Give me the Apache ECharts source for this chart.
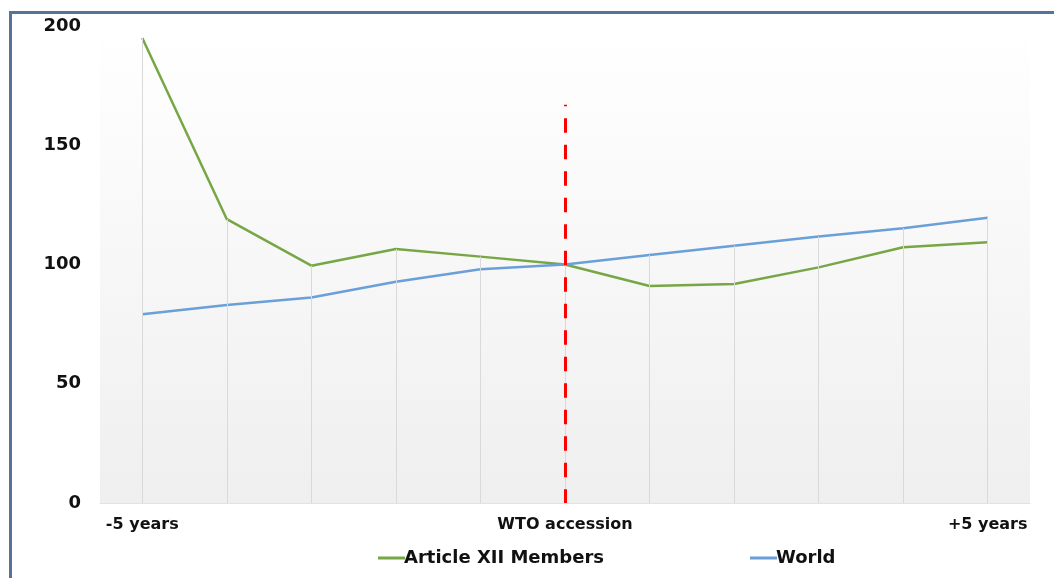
<!DOCTYPE html>
<html>
<head>
<meta charset="utf-8">
<script src="https://cdn.jsdelivr.net/npm/echarts@6/dist/echarts.min.js"></script>
<style>
html,body{margin:0;padding:0;background:#fff;}
#chart{position:absolute;left:0;top:0;width:1054px;height:578px;}
#frame{position:absolute;left:9px;top:11px;width:1060px;height:600px;border-left:3px solid #56739a;border-top:3px solid #56739a;pointer-events:none;}
</style>
</head>
<body>
<div id="chart"></div>
<div id="frame"></div>
<script>
const categories = ['-5','-4','-3','-2','-1','0','1','2','3','4','5'];
const tickLabels = ['-5 years','','','','','WTO accession','','','','','+5 years'];
const article12 = [195, 119, 99.5, 106.5, 103.3, 100, 91, 91.8, 98.8, 107.2, 109.3];
const world = [79.1, 83, 86.2, 92.8, 98, 100, 104, 107.9, 111.7, 115.2, 119.6];
const accessionIndex = 5;
const accessionLineTop = 167;
const yTicks = [0, 50, 100, 150, 200];

const FONT = '"DejaVu Sans", Verdana, sans-serif';
const chart = echarts.init(document.getElementById('chart'), null, {renderer: 'canvas'});

const dropLines = categories.map((c, i) => [
  {coord: [i, Math.max(article12[i], world[i])]},
  {coord: [i, 0]}
]);

chart.setOption({
  animation: false,
  backgroundColor: 'transparent',
  grid: {
    left: 100, right: 24, top: 26, bottom: 75,
    show: true,
    borderWidth: 0,
    backgroundColor: new echarts.graphic.LinearGradient(0, 0, 0, 1, [
      {offset: 0, color: '#ffffff'},
      {offset: 1, color: '#efefef'}
    ])
  },
  legend: {
    data: ['Article XII Members', 'World'],
    left: 373, top: 544,
    icon: 'rect',
    itemWidth: 27, itemHeight: 3,
    itemGap: 146,
    textStyle: {fontFamily: FONT, fontWeight: 'bold', fontSize: 18, color: '#111', padding: [0, 0, 0, -6]}
  },
  xAxis: {
    type: 'category',
    data: categories,
    boundaryGap: true,
    axisLine: {show: true, lineStyle: {color: '#e2e2e2', width: 1}},
    axisTick: {show: false},
    splitLine: {show: false},
    axisLabel: {
      interval: 0, margin: 14,
      fontFamily: FONT, fontWeight: 'bold', fontSize: 16, color: '#111',
      formatter: (v, i) => tickLabels[i]
    }
  },
  yAxis: {
    type: 'value',
    min: yTicks[0], max: yTicks[yTicks.length - 1], interval: 50,
    axisLine: {show: false},
    axisTick: {show: false},
    splitLine: {show: false},
    axisLabel: {margin: 19, fontFamily: FONT, fontWeight: 'bold', fontSize: 18, color: '#111'}
  },
  series: [
    {
      name: 'drops', type: 'line', data: [], z: 1, silent: true,
      markLine: {
        silent: true, symbol: 'none', label: {show: false},
        lineStyle: {color: '#d9d9d9', width: 1, type: 'solid'},
        data: dropLines
      }
    },
    {
      name: 'Article XII Members', type: 'line', data: article12, z: 3,
      showSymbol: false, symbol: 'none',
      lineStyle: {color: '#77a645', width: 2.5},
      itemStyle: {color: '#77a645'}
    },
    {
      name: 'World', type: 'line', data: world, z: 3,
      showSymbol: false, symbol: 'none',
      lineStyle: {color: '#6a9fd8', width: 2.5},
      itemStyle: {color: '#6a9fd8'}
    },
    {
      name: 'accession', type: 'line', data: [], z: 5, silent: true,
      markLine: {
        silent: true, symbol: 'none', label: {show: false},
        lineStyle: {color: '#ff0000', width: 3, type: [14.5, 12], dashOffset: 13},
        data: [[{coord: [accessionIndex, accessionLineTop]}, {coord: [accessionIndex, 0]}]]
      }
    }
  ]
});
</script>
</body>
</html>
